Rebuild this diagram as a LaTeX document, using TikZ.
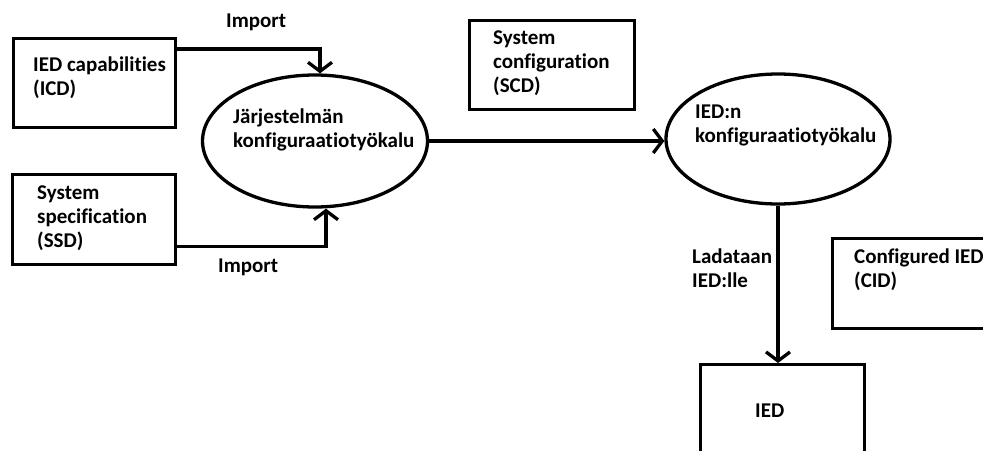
\documentclass[tikz,border=0pt]{standalone}
\usepackage{fontspec}
\setmainfont{Carlito}[Ligatures=NoCommon]
\usetikzlibrary{arrows.meta,shapes.geometric}
\begin{document}
\begin{tikzpicture}[x=1pt,y=-1pt,
  every node/.style={font=\bfseries\fontsize{21}{24}\selectfont},
  lbl/.style={align=left, inner sep=0pt, anchor=base west},
  frame/.style={draw, line width=3.3pt, rectangle, inner sep=0pt, anchor=north west},
  tool/.style={draw, line width=3.3pt, ellipse, inner sep=0pt},
  flow/.style={line width=3.3pt, -{Straight Barb[length=9pt,width=24pt,line width=3.3pt]}},
]
\useasboundingbox (0,0) rectangle (983,450);
\clip (0,0) rectangle (983,450);

% file boxes
\node[frame, minimum width=162pt, minimum height=89pt] (icd) at (12,37) {};
\node[frame, minimum width=163pt, minimum height=90pt] (ssd) at (11,173) {};
\node[frame, minimum width=165pt, minimum height=89pt] (scd) at (468,19) {};
\node[frame, minimum width=175pt, minimum height=90pt] (cid) at (831,237) {};
\node[frame, minimum width=164pt, minimum height=110pt] (iedbox) at (699,363) {};

% configuration tools
\node[tool, minimum width=225pt, minimum height=132pt] (systool) at (315,141) {};
\node[tool, minimum width=224pt, minimum height=130pt] (iedtool) at (778,139) {};

% texts (anchored at the baseline of their last line)
\node[lbl] (icdtext) at (33,95) {IED capabilities\\(ICD)};
\node[lbl] (ssdtext) at (37,247) {System\\specification\\(SSD)};
\node[lbl] (scdtext) at (493,92) {System\\configuration\\(SCD)};
\node[lbl] (cidtext) at (854,287) {Configured IED\\(CID)};
\node[lbl] (iedtext) at (755,417) {IED};
\node[lbl] (systext) at (233,147) {Järjestelmän\\konfiguraatiotyökalu};
\node[lbl] (iedtooltext) at (695,142) {IED:n\\konfiguraatiotyökalu};
\node[lbl] (importtop) at (226,27) {Import};
\node[lbl] (importbot) at (218,272) {Import};
\node[lbl] (load) at (692,287) {Ladataan\\IED:lle};

% flows
\draw[flow] ([yshift=-12pt]icd.north east) -| ([xshift=5pt]systool.north);
\draw[flow] ([yshift=20pt]ssd.south east) -| ([xshift=11pt]systool.south);
\draw[flow] (systool.east) -- (systool.east -| iedtool.west);
\draw[flow] (iedtool.south) -- (iedtool.south |- iedbox.north);
\end{tikzpicture}
\end{document}
